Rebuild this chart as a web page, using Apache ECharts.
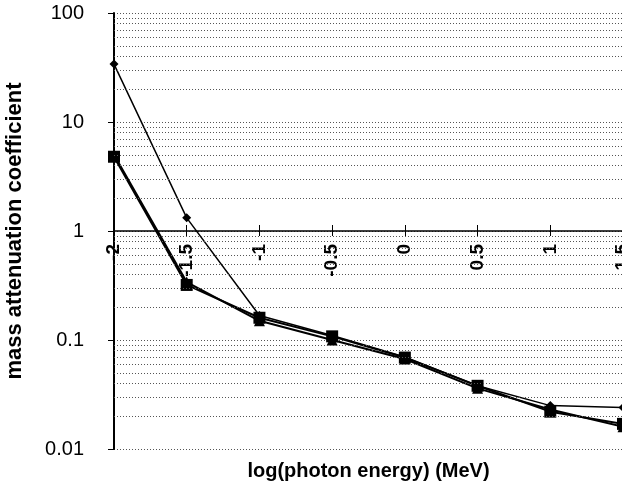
<!DOCTYPE html>
<html>
<head>
<meta charset="utf-8">
<script src="https://cdn.jsdelivr.net/npm/echarts@6/dist/echarts.min.js"></script>
<style>
  html, body { margin: 0; padding: 0; background: #fff; }
  #chart { width: 622px; height: 490px; }
</style>
</head>
<body>
<div id="chart"></div>
<script>
const chart = echarts.init(document.getElementById('chart'));

// x = log(photon energy), y = mass attenuation coefficient
const energies = [-2, -1.5, -1, -0.5, 0, 0.5, 1, 1.5];
const diamondVals = [34, 1.32, 0.168, 0.11, 0.07, 0.038, 0.025, 0.024];
const squareVals = [4.8, 0.32, 0.16, 0.108, 0.069, 0.038, 0.022, 0.017];
const triangleVals = [5.0, 0.34, 0.15, 0.1, 0.067, 0.036, 0.023, 0.016];
const yTicks = [0.01, 0.1, 1, 10, 100];

// dotted minor grid at 2..9 of each decade
let minorGrid = [];
yTicks.slice(0, 4).forEach(function (d) {
  for (let k = 2; k <= 9; k++) minorGrid.push(+(d * k).toPrecision(3));
});

function pairs(vals) {
  return energies.map(function (x, i) { return [x, vals[i]]; });
}

const font = 'Liberation Sans, Arial';
const dotted = { color: '#555', type: [1, 2], width: 1 };
const xBase = { type: 'value', position: 'bottom', min: -2, max: 1.5, interval: 0.5, splitLine: { show: false } };

let option = {
  animation: false,
  grid: { left: 114, top: 13, width: 509, height: 436, outerBoundsMode: 'none' },
  xAxis: [
    Object.assign({}, xBase, {
      offset: -218,
      axisLine: { onZero: false, lineStyle: { color: '#000', width: 1.5 } },
      axisTick: { inside: true, length: 6, lineStyle: { color: '#000' } },
      axisLabel: {
        rotate: 90,
        margin: 13,
        color: '#000',
        fontFamily: font,
        fontSize: 19,
        fontWeight: 'bold'
      }
    }),
    Object.assign({}, xBase, {
      offset: -218,
      axisLine: { show: false, onZero: false },
      axisTick: { length: 5, lineStyle: { color: '#000' } },
      axisLabel: { show: false }
    }),
    Object.assign({}, xBase, {
      axisLine: { show: false, onZero: false },
      axisTick: { show: false },
      axisLabel: { show: false },
      name: 'log(photon energy) (MeV)',
      nameLocation: 'middle',
      nameGap: 12,
      nameTextStyle: { color: '#000', fontFamily: font, fontSize: 20, fontWeight: 'bold', verticalAlign: 'top' }
    })
  ],
  yAxis: {
    type: 'log',
    logBase: 10,
    min: 0.01,
    max: 100,
    axisLine: { show: true, onZero: false, lineStyle: { color: '#000', width: 2 } },
    axisTick: { show: true, length: 6, lineStyle: { color: '#000' } },
    splitLine: { show: true, lineStyle: dotted },
    axisLabel: {
      margin: 30,
      color: '#000',
      fontFamily: font,
      fontSize: 20,
      formatter: function (v) { return String(+v.toPrecision(2)); }
    },
    name: 'mass attenuation coefficient',
    nameLocation: 'middle',
    nameGap: 88,
    nameTextStyle: { color: '#000', fontFamily: font, fontSize: 22, fontWeight: 'bold' }
  },
  series: [
    {
      name: 'grid',
      type: 'line',
      data: [],
      silent: true,
      markLine: {
        silent: true,
        symbol: 'none',
        label: { show: false },
        lineStyle: dotted,
        data: minorGrid.map(function (v) { return { yAxis: v }; })
      }
    },
    {
      name: 'diamond',
      type: 'line',
      data: pairs(diamondVals),
      symbol: 'diamond',
      symbolSize: 9,
      lineStyle: { color: '#000', width: 1.5 },
      itemStyle: { color: '#000' }
    },
    {
      name: 'square',
      type: 'line',
      data: pairs(squareVals),
      symbol: 'rect',
      symbolSize: 12,
      lineStyle: { color: '#000', width: 2 },
      itemStyle: { color: '#000' }
    },
    {
      name: 'triangle',
      type: 'line',
      data: pairs(triangleVals),
      symbol: 'triangle',
      symbolSize: 11,
      lineStyle: { color: '#000', width: 2 },
      itemStyle: { color: '#000' }
    }
  ]
};

chart.setOption(option);
</script>
</body>
</html>
